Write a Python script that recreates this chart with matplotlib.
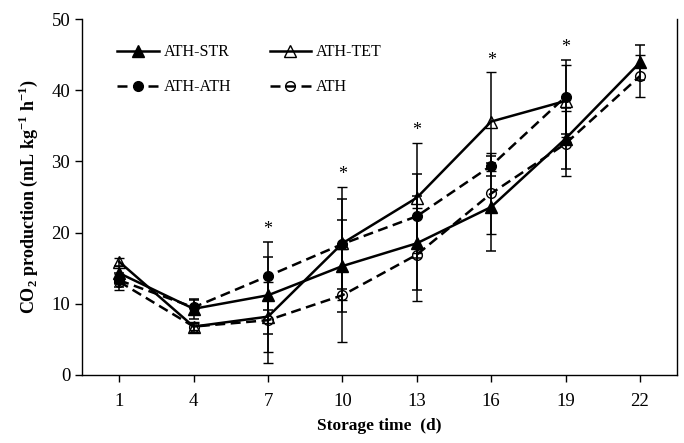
import matplotlib
matplotlib.use("Agg")
import matplotlib.pyplot as plt
from matplotlib.lines import Line2D
import numpy as np

plt.rcParams['font.family'] = ['Liberation Serif', 'DejaVu Serif']
plt.rcParams['mathtext.fontset'] = 'custom'
plt.rcParams['mathtext.rm'] = 'Liberation Serif'
plt.rcParams['mathtext.bf'] = 'Liberation Serif:bold'

days = [1, 4, 7, 10, 13, 16, 19, 22]
days_short = [1, 4, 7, 10, 13, 16, 19]

str_mean = [14.3, 9.3, 11.2, 15.3, 18.5, 23.6, 33.2, 43.9]
str_err = [1.0, 1.4, 5.4, 6.5, 6.6, 6.2, 4.3, 2.4]

tet_mean = [15.9, 6.8, 8.2, 18.5, 24.9, 35.6, 38.5]
tet_err = [0.6, 0.5, 4.9, 7.9, 7.7, 6.9, 5.1]

ath_ath_mean = [13.3, 9.5, 13.9, 18.4, 22.3, 29.4, 39.1]
ath_ath_err = [1.0, 1.0, 4.8, 6.3, 5.9, 1.4, 5.2]

ath_mean = [13.1, 6.8, 7.7, 11.2, 16.9, 25.5, 32.5, 42.0]
ath_err = [1.1, 0.7, 6.0, 6.5, 6.5, 5.7, 4.6, 3.0]

sig_days = [7, 10, 13, 16, 19]

fig = plt.figure(figsize=(6.84, 4.43), dpi=100)
ax = fig.add_axes([0.12, 0.1535, 0.87, 0.8035])

lw = 1.8
dash = (0, (4, 2.2))
common = dict(color='black', ecolor='black', elinewidth=1.1, capsize=3.5, capthick=1.1, linewidth=lw)
styles = {
    'ATH-STR': dict(marker='^', markersize=8, markerfacecolor='black', linestyle='-'),
    'ATH-TET': dict(marker='^', markersize=8, markerfacecolor='none', markeredgewidth=1.0, linestyle='-'),
    'ATH-ATH': dict(marker='o', markersize=7, markerfacecolor='black', linestyle=dash),
    'ATH': dict(marker='o', markersize=7, markerfacecolor='none', markeredgewidth=1.0, linestyle=dash),
}
series = [('ATH-STR', days, str_mean, str_err), ('ATH-TET', days_short, tet_mean, tet_err),
          ('ATH-ATH', days_short, ath_ath_mean, ath_ath_err), ('ATH', days, ath_mean, ath_err)]
for name, d, m, e in series:
    ax.errorbar(d, m, yerr=e, **styles[name], **common)

# significance stars above the highest error bar
all_top = {}
for name, d_list, m_list, e_list in series:
    for d, m, e in zip(d_list, m_list, e_list):
        all_top[d] = max(all_top.get(d, 0), m + e)
for d in sig_days:
    ax.text(d, all_top[d] + 0.5, '*', ha='center', va='bottom', fontsize=13)

ax.set_xlim(-0.5, 23.5)
ax.set_ylim(0, 50)
ax.set_xticks(days)
ax.set_yticks([0, 10, 20, 30, 40, 50])
ax.tick_params(direction='out', length=5, width=1, labelsize=13.5)
ax.tick_params(axis='x', pad=8)
ax.spines['top'].set_visible(False)
for s in ['left', 'bottom', 'right']:
    ax.spines[s].set_linewidth(1.0)

ax.set_xlabel('Storage time  (d)', fontsize=12.5, fontweight='bold', labelpad=6)
ax.set_ylabel(r'CO$_\mathbf{2}$ production (mL kg$^\mathbf{-1}$ h$^\mathbf{-1}$)', fontsize=13,
              fontweight='bold', labelpad=8)

order = ['ATH-STR', 'ATH-ATH', 'ATH-TET', 'ATH']
handles = [Line2D([], [], color='black', linewidth=lw, **styles[n]) for n in order]
ax.legend(handles, order, loc='upper left', ncol=2, frameon=False, fontsize=11.5, handlelength=2.6,
          columnspacing=2.4, labelspacing=1.2, bbox_to_anchor=(0.035, 0.97), handletextpad=0.3)

fig.savefig('out.png', dpi=100)
